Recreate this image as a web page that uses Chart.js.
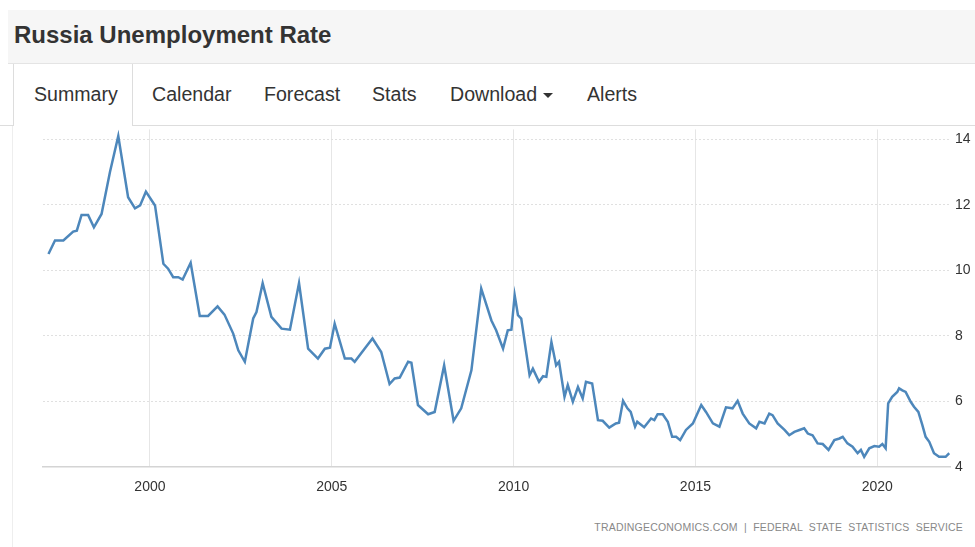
<!DOCTYPE html>
<html>
<head>
<meta charset="utf-8">
<script src="https://cdn.jsdelivr.net/npm/chart.js@4.4.1/dist/chart.umd.min.js"></script>
<style>
  body { margin: 0; width: 975px; height: 547px; background: #fff; font-family: "Liberation Sans", Arial, sans-serif; overflow: hidden; position: relative; }
  .band { position: absolute; left: 8px; top: 10px; width: 967px; height: 53px; background: #f6f6f6; border-bottom: 1px solid #e4e4e4; }
  .band h1 { margin: 0; position: absolute; left: 6px; top: 11px; font-size: 24px; font-weight: bold; color: #333; }
  .tabs { position: absolute; left: 0; top: 64px; width: 975px; height: 61px; border-bottom: 1px solid #ddd; }
  .tab { position: absolute; top: 19px; font-size: 19.6px; color: #333; }
  .active { position: absolute; left: 13px; top: 0; width: 118px; height: 62px; background: #fff; border-left: 1px solid #ddd; border-right: 1px solid #ddd; }
  .caret { display: inline-block; width: 0; height: 0; border-left: 5px solid transparent; border-right: 5px solid transparent; border-top: 5px solid #333; vertical-align: middle; margin-left: 6px; }
  .side { position: absolute; left: 12px; top: 126px; width: 1px; height: 421px; background: #eee; }
  #wrap { position: absolute; left: 0; top: 116px; width: 975px; height: 381px; }
  .src { position: absolute; right: 12px; top: 521px; font-size: 10.5px; color: #888; letter-spacing: 0.2px; }
</style>
</head>
<body>
<div class="band"><h1>Russia Unemployment Rate</h1></div>
<div class="tabs">
  <div class="active"></div>
  <div class="tab" style="left:34px">Summary</div>
  <div class="tab" style="left:152px">Calendar</div>
  <div class="tab" style="left:264px">Forecast</div>
  <div class="tab" style="left:372px">Stats</div>
  <div class="tab" style="left:450px">Download<span class="caret"></span></div>
  <div class="tab" style="left:587px">Alerts</div>
</div>
<div class="side"></div>
<div id="wrap"><canvas id="lineChart"></canvas></div>
<div class="src">TRADINGECONOMICS.COM &nbsp;|&nbsp; FEDERAL &nbsp;STATE &nbsp;STATISTICS &nbsp;SERVICE</div>

<script>
// values (decimal year, percent)
const years = [
  1997.21, 1997.39, 1997.62, 1997.89, 1997.99, 1998.12, 1998.30, 1998.46, 1998.67, 1998.90,
  1999.13, 1999.40, 1999.59, 1999.73, 1999.89, 2000.14, 2000.37, 2000.50, 2000.64, 2000.78,
  2000.90, 2001.12, 2001.37, 2001.60, 2001.86, 2002.05, 2002.29, 2002.43, 2002.61, 2002.84,
  2002.93, 2003.10, 2003.34, 2003.62, 2003.85, 2004.10, 2004.35, 2004.62, 2004.81, 2004.95,
  2005.08, 2005.36, 2005.54, 2005.63, 2005.95, 2006.12, 2006.36, 2006.59, 2006.73, 2006.87,
  2007.10, 2007.19, 2007.37, 2007.65, 2007.83, 2008.09, 2008.35, 2008.56, 2008.84, 2009.11,
  2009.39, 2009.52, 2009.71, 2009.84, 2009.94, 2010.03, 2010.12, 2010.21, 2010.44, 2010.53,
  2010.70, 2010.81, 2010.90, 2011.04, 2011.17, 2011.25, 2011.40, 2011.49, 2011.63, 2011.77,
  2011.90, 2011.99, 2012.16, 2012.32, 2012.45, 2012.63, 2012.81, 2012.90, 2013.01, 2013.13,
  2013.22, 2013.34, 2013.40, 2013.59, 2013.78, 2013.87, 2013.96, 2014.10, 2014.24, 2014.36,
  2014.47, 2014.58, 2014.74, 2014.93, 2015.16, 2015.29, 2015.48, 2015.66, 2015.84, 2016.02,
  2016.16, 2016.30, 2016.48, 2016.67, 2016.76, 2016.90, 2017.03, 2017.12, 2017.26, 2017.45,
  2017.58, 2017.72, 2017.86, 2017.99, 2018.09, 2018.22, 2018.36, 2018.50, 2018.66, 2018.82,
  2018.96, 2019.05, 2019.18, 2019.32, 2019.46, 2019.55, 2019.64, 2019.78, 2019.92, 2020.05,
  2020.14, 2020.23, 2020.30, 2020.41, 2020.55, 2020.60, 2020.69, 2020.78, 2020.92, 2021.01,
  2021.13, 2021.24, 2021.33, 2021.43, 2021.56, 2021.70, 2021.88, 2021.98
];
const rates = [
  10.50, 10.91, 10.91, 11.18, 11.21, 11.69, 11.69, 11.31, 11.72, 12.99,
  14.10, 12.23, 11.89, 11.98, 12.40, 11.98, 10.20, 10.05, 9.79, 9.79,
  9.72, 10.23, 8.61, 8.61, 8.90, 8.65, 8.07, 7.56, 7.21, 8.53,
  8.73, 9.61, 8.58, 8.22, 8.19, 9.61, 7.61, 7.31, 7.61, 7.64,
  8.37, 7.31, 7.31, 7.21, 7.68, 7.92, 7.51, 6.53, 6.70, 6.73,
  7.21, 7.18, 5.89, 5.61, 5.68, 7.10, 5.41, 5.79, 6.95, 9.44,
  8.47, 8.17, 7.61, 8.17, 8.19, 9.24, 8.63, 8.53, 6.80, 7.00,
  6.60, 6.77, 6.75, 7.81, 7.10, 7.21, 6.14, 6.50, 5.99, 6.44,
  6.09, 6.60, 6.55, 5.43, 5.41, 5.20, 5.33, 5.35, 6.02, 5.79,
  5.68, 5.23, 5.38, 5.21, 5.48, 5.43, 5.61, 5.61, 5.38, 4.92,
  4.92, 4.82, 5.13, 5.33, 5.89, 5.68, 5.33, 5.23, 5.82, 5.79,
  6.02, 5.63, 5.33, 5.18, 5.38, 5.33, 5.63, 5.58, 5.33, 5.13,
  4.97, 5.07, 5.13, 5.18, 5.02, 4.97, 4.72, 4.70, 4.52, 4.82,
  4.87, 4.92, 4.72, 4.62, 4.42, 4.52, 4.31, 4.57, 4.64, 4.62,
  4.70, 4.57, 5.94, 6.14, 6.29, 6.40, 6.34, 6.29, 5.99, 5.84,
  5.68, 5.28, 4.92, 4.77, 4.42, 4.31, 4.31, 4.42
];
const xTicks = [2000, 2005, 2010, 2015, 2020];
const yTicks = [4, 6, 8, 10, 12, 14];

let points = years.map((yr, i) => ({ x: yr, y: rates[i] }));

let $chart = document.getElementById('lineChart');
let unempChart = new Chart($chart, {
  type: 'line',
  data: {
    datasets: [{
      label: 'Unemployment Rate',
      data: points,
      borderColor: '#4d87bb',
      borderWidth: 2.5,
      pointRadius: 0,
      fill: false,
      tension: 0
    }]
  },
  options: {
    responsive: true,
    maintainAspectRatio: false,
    animation: false,
    layout: { padding: { left: 43, right: 0, top: 2, bottom: 0 } },
    plugins: { legend: { display: false }, tooltip: { enabled: false } },
    scales: {
      x: {
        type: 'linear',
        min: 1997.06,
        max: 2022.0,
        afterBuildTicks: (s) => { s.ticks = xTicks.map(v => ({ value: v })); },
        afterFit: (s) => { s.height = 30; },
        grid: { color: '#e6e6e6', drawTicks: false },
        border: { display: true, color: '#d4d4d4', width: 1.5 },
        ticks: {
          padding: 12, color: '#333',
          font: { family: 'Liberation Sans', size: 14 },
          callback: (v) => String(v)
        }
      },
      y: {
        position: 'right',
        min: 4,
        max: 14.3,
        afterBuildTicks: (s) => { s.ticks = yTicks.map(v => ({ value: v })); },
        afterFit: (s) => { s.width = 25; },
        grid: {
          drawTicks: false,
          color: (c) => c.tick && c.tick.value === 4 ? 'rgba(0,0,0,0)' : '#e0e0e0'
        },
        border: { display: false, dash: [2, 2] },
        ticks: { padding: 5, color: '#333', font: { family: 'Liberation Sans', size: 14 } }
      }
    }
  }
});
</script>
</body>
</html>
